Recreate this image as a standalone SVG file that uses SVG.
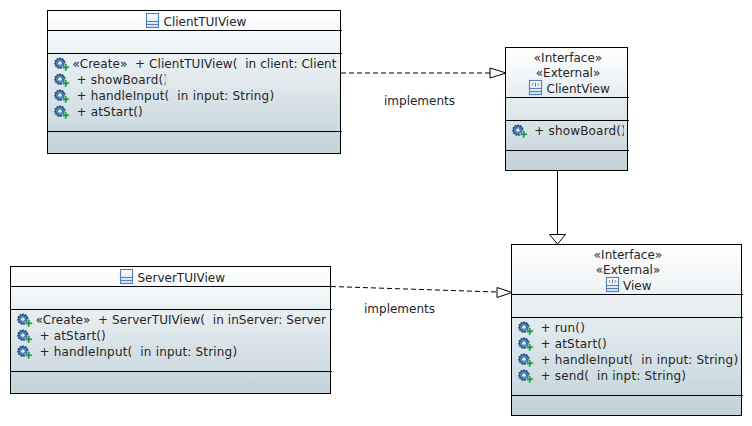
<svg xmlns="http://www.w3.org/2000/svg" width="752" height="426" viewBox="0 0 752 426">
<style>
text{font-family:"DejaVu Sans",sans-serif;font-size:12px;fill:#262626;white-space:pre}
.op{letter-spacing:.17px}
.cr{letter-spacing:.06px}
.box{stroke:#000;stroke-width:1}
.div{stroke:#000;stroke-width:1;fill:none}
.conn{stroke:#000;stroke-width:1;fill:none}
.dash{stroke-dasharray:5 3}
.head{fill:#fff;stroke:#000;stroke-width:1}
.m{text-anchor:middle}
</style>
<defs>
<linearGradient id="g" x1="0" y1="0" x2="0" y2="1"><stop offset="0" stop-color="#ffffff"/><stop offset="1" stop-color="#c1d2d9"/></linearGradient>
<linearGradient id="ic" x1="0" y1="0" x2="0" y2="1"><stop offset="0" stop-color="#ffffff"/><stop offset="1" stop-color="#cfe0f2"/></linearGradient>
<g id="gear">
<circle cx="5.900" cy="6.200" r="5" fill="#33639c" stroke="#22497c" stroke-width="1.400" stroke-dasharray="1.700 1.100"/>
<circle cx="5.900" cy="6.200" r="3.500" fill="#5585bc"/>
<circle cx="5.900" cy="6.200" r="1.600" fill="#e6eef6"/>
<path d="M10.500 6.500h2.400v2.600h2.300v2.400h-2.300v2.500h-2.400v-2.500H8v-2.400h2.500z" fill="#1f9a55" stroke="#fff" stroke-width=".4"/>
</g>
<g id="cls">
<rect x=".5" y=".5" width="12" height="14" fill="url(#ic)" stroke="#4f82bd" stroke-width="1.100"/>
<path d="M1 8.500h11M1 11.500h11" stroke="#4f82bd" stroke-width="1"/>
</g>
<g id="ifc">
<rect x=".5" y=".5" width="12" height="14" fill="url(#ic)" stroke="#4f82bd" stroke-width="1.100"/>
<path d="M1 8.500h11M1 11.500h11" stroke="#4f82bd" stroke-width="1"/>
<rect x="2" y="1.800" width="9" height="5.400" fill="#fff"/>
<path d="M4.500 2.800L3 4.500l1.500 1.700M8.500 2.800L10 4.500L8.500 6.200M6.500 2.500v4" stroke="#2a5488" stroke-width=".8" fill="none"/>
</g>
<clipPath id="c1"><rect x="47" y="70" width="118.500" height="16"/></clipPath>
<clipPath id="c2"><rect x="505" y="120" width="119" height="20"/></clipPath>
</defs>
<g id="connectors">
<path class="conn dash" d="M341 73L491 73"/>
<path class="head" d="M506 73L490 68L490 78Z"/>
<path class="conn" d="M557.500 171L557.500 234"/>
<path class="head" d="M557.500 244L549.500 234.500L565.500 234.500Z"/>
<path class="conn dash" d="M331 286.500L497 292"/>
<path class="head" d="M512 292.500L497 287.500L497 297.500Z"/>
<text x="384" y="105">implements</text>
<text x="364" y="313">implements</text>
</g>
<g id="ClientTUIView">
<rect class="box" x="47.500" y="10.500" width="293" height="143" fill="url(#g)"/>
<path class="div" d="M48 30.500H342M48 53.500H342M48 131.500H342"/>
<use href="#cls" x="146" y="13"/>
<text x="163.500" y="26">ClientTUIView</text>
<use href="#gear" x="54" y="57"/><text class="cr" x="72.500" y="68">«Create»  + ClientTUIView(  in client: Client</text>
<use href="#gear" x="54" y="73"/><text class="op" x="76.500" y="84" clip-path="url(#c1)">+ showBoard()</text>
<use href="#gear" x="54" y="89"/><text class="op" x="76.500" y="100">+ handleInput(  in input: String)</text>
<use href="#gear" x="54" y="105"/><text class="op" x="76.500" y="116">+ atStart()</text>
</g>
<g id="ClientView">
<rect class="box" x="505.500" y="47.500" width="122" height="123" fill="url(#g)"/>
<path class="div" d="M506 97.500H629M506 120.500H629M506 150.500H629"/>
<text class="m" x="568" y="62">«Interface»</text>
<text class="m" x="568" y="77">«External»</text>
<use href="#ifc" x="529" y="80"/>
<text x="546.500" y="93">ClientView</text>
<use href="#gear" x="512" y="124"/><text class="op" x="534.300" y="135" clip-path="url(#c2)">+ showBoard()</text>
</g>
<g id="ServerTUIView">
<rect class="box" x="10.500" y="266.500" width="320" height="127" fill="url(#g)"/>
<path class="div" d="M11 286.500H332M11 309.500H332M11 371.500H332"/>
<use href="#cls" x="120" y="269"/>
<text x="137.500" y="282">ServerTUIView</text>
<use href="#gear" x="17" y="313"/><text class="cr" x="35.500" y="324">«Create»  + ServerTUIView(  in inServer: Server</text>
<use href="#gear" x="17" y="329"/><text class="op" x="39.500" y="340">+ atStart()</text>
<use href="#gear" x="17" y="345"/><text class="op" x="39.500" y="356">+ handleInput(  in input: String)</text>
</g>
<g id="View">
<rect class="box" x="511.500" y="244.500" width="230" height="171" fill="url(#g)"/>
<path class="div" d="M512 294.500H743M512 317.500H743M512 395.500H743"/>
<text class="m" x="628" y="259">«Interface»</text>
<text class="m" x="628" y="274">«External»</text>
<use href="#ifc" x="606" y="277"/>
<text x="623" y="290">View</text>
<use href="#gear" x="518" y="321"/><text class="op" x="540.500" y="332">+ run()</text>
<use href="#gear" x="518" y="337"/><text class="op" x="540.500" y="348">+ atStart()</text>
<use href="#gear" x="518" y="353"/><text class="op" x="540.500" y="364">+ handleInput(  in input: String)</text>
<use href="#gear" x="518" y="369"/><text class="op" x="540.500" y="380">+ send(  in inpt: String)</text>
</g>
</svg>
